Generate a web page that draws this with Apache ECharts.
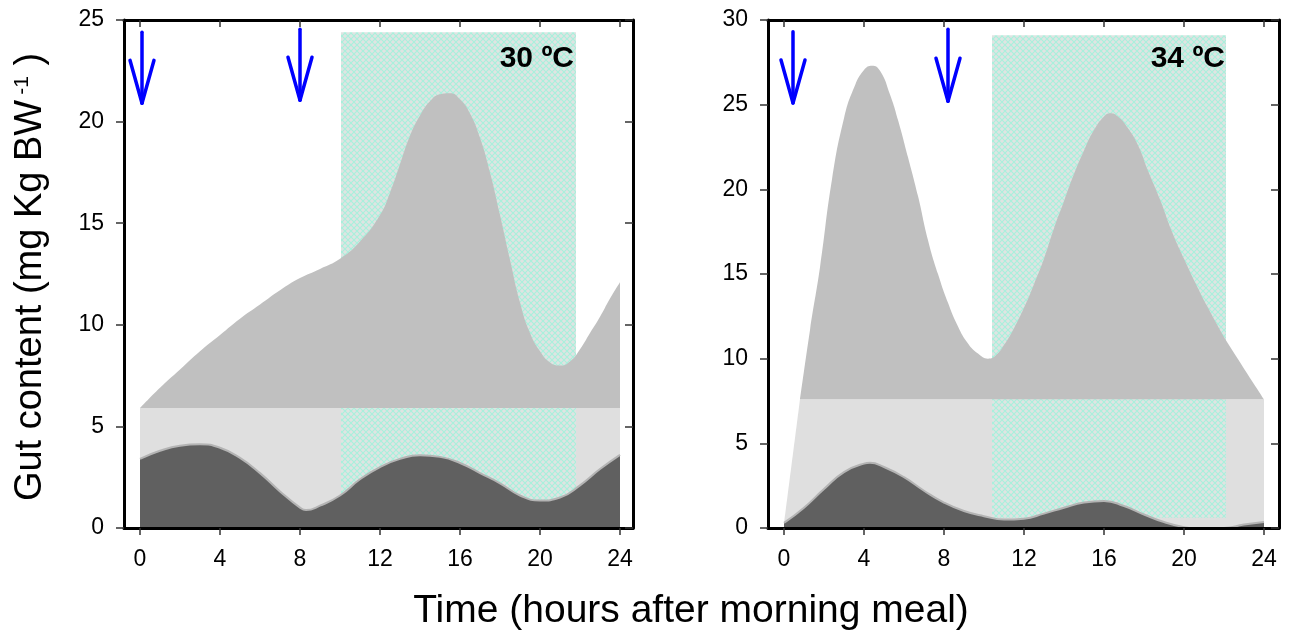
<!DOCTYPE html>
<html>
<head>
<meta charset="utf-8">
<script src="https://cdn.jsdelivr.net/npm/echarts@6/dist/echarts.min.js"></script>
<style>
  html, body { margin: 0; padding: 0; background: #fff; }
  #chart { width: 1296px; height: 641px; }
</style>
</head>
<body>
<div id="chart"></div>
<script>
const xTicks = [0, 4, 8, 12, 16, 20, 24]

// 30 ºC panel
const upper30 = [[0, 5.9], [1, 6.9], [2, 7.8], [3, 8.7], [4, 9.5], [5, 10.3], [6, 11.0], [7, 11.7], [8, 12.3],
  [9, 12.75], [10, 13.25], [11, 14.1], [12, 15.4], [12.5, 16.5], [13, 17.9], [13.5, 19.3], [14, 20.3],
  [14.5, 21.0], [15, 21.35], [15.5, 21.4], [16, 21.1], [16.5, 20.4], [17, 19.2], [17.5, 17.5], [18, 15.4],
  [18.5, 13.2], [19, 11.1], [19.5, 9.6], [20, 8.7], [20.5, 8.15], [21, 8.0], [21.5, 8.2], [22, 8.8],
  [22.5, 9.6], [23, 10.4], [23.5, 11.3], [24, 12.1]]
const lower30 = [[0, 3.4], [1, 3.8], [2, 4.05], [3, 4.12], [4, 3.95], [5, 3.45], [6, 2.7], [7, 1.8], [8, 1.0],
  [8.3, 0.88], [9, 1.1], [10, 1.6], [11, 2.4], [12, 3.0], [13, 3.4], [14, 3.58], [15, 3.5], [16, 3.2], [17, 2.7],
  [18, 2.2], [19, 1.6], [20, 1.35], [21, 1.5], [22, 2.1], [23, 2.9], [24, 3.6]]
const band30 = 5.9
const warm30 = [[10.05, 21.8, 0, 24.4]]        // [start, end, bottom, top]
const arrows30 = [[0.1, 24.4, 20.9], [8.0, 24.55, 21.05]]   // [hour, top, tip]

// 34 ºC panel
const upper34 = [[0, 0.3], [0.8, 7.6], [1.3, 11.7], [1.8, 15.4], [2.4, 20.6], [3, 24.2], [3.5, 26.0],
  [4, 27.05], [4.4, 27.3], [4.8, 27.0], [5.3, 25.6], [5.7, 24.1], [6.2, 21.9], [6.7, 19.6], [7.2, 17.0],
  [7.7, 15.0], [8.2, 13.3], [8.7, 11.9], [9.2, 10.9], [9.7, 10.3], [10.2, 10.0], [10.6, 10.2], [11, 10.8],
  [11.5, 11.8], [12, 13.0], [12.5, 14.4], [13, 15.9], [13.5, 17.7], [14, 19.3], [14.5, 20.9], [15, 22.3],
  [15.5, 23.5], [16, 24.3], [16.3, 24.5], [16.7, 24.3], [17.2, 23.6], [17.7, 22.6], [18.2, 21.1],
  [18.8, 19.4], [19.4, 17.5], [20, 15.9], [20.6, 14.4], [21.2, 13.0], [21.8, 11.7], [22.2, 10.9], [24, 7.6]]
const lower34 = [[0, 0.3], [1, 1.2], [2, 2.3], [3, 3.3], [4, 3.8], [4.3, 3.85], [5, 3.6], [6, 3.0], [7, 2.2],
  [8, 1.5], [9, 1.0], [10, 0.7], [11, 0.5], [12, 0.55], [13, 0.85], [14, 1.2], [15, 1.5], [16, 1.6],
  [17, 1.3], [18, 0.8], [19, 0.35], [20, 0.05], [20.5, 0], [22, 0], [23, 0.2], [24, 0.35]]
const band34 = 7.6
const warm34 = [[10.4, 22.1, 0.6, 29.1]]
const arrows34 = [[0.45, 29.3, 25.1], [8.2, 29.45, 25.2]]

const FONT = 'Liberation Sans, Arial, sans-serif'

// cross hatch for the warm period
function hatch() {
  const c = document.createElement('canvas')
  c.width = c.height = 6
  const g = c.getContext('2d')
  g.fillStyle = '#dfe4e2'
  g.fillRect(0, 0, 6, 6)
  g.strokeStyle = '#a8f0dc'
  g.lineWidth = 1.1
  g.beginPath()
  g.moveTo(0, 0); g.lineTo(6, 6)
  g.moveTo(6, 0); g.lineTo(0, 6)
  g.stroke()
  return { image: c, repeat: 'repeat' }
}
const pattern = hatch()

function xAxes(gridIndex, max) {
  const common = {
    type: 'value', gridIndex, min: -0.8, max, z: 10,
    splitLine: { show: false },
    axisLine: { show: true, onZero: false, lineStyle: { color: '#000', width: 3 } },
  }
  return [
    Object.assign({}, common, {
      position: 'bottom',
      axisTick: { show: true, length: 7, customValues: xTicks, lineStyle: { color: '#333', width: 1.5 } },
      axisLabel: { show: true, customValues: xTicks, margin: 20, color: '#000', fontSize: 23, fontFamily: FONT },
    }),
    Object.assign({}, common, {
      position: 'top',
      axisTick: { show: true, inside: true, length: 7, customValues: xTicks, lineStyle: { color: '#333', width: 1.5 } },
      axisLabel: { show: false },
    }),
  ]
}

function yAxes(gridIndex, max) {
  const common = {
    type: 'value', gridIndex, min: 0, max, interval: 5, z: 10,
    splitLine: { show: false },
    axisLine: { show: true, onZero: false, lineStyle: { color: '#000', width: 3 } },
  }
  return [
    Object.assign({}, common, {
      position: 'left',
      axisTick: { show: true, length: 8, lineStyle: { color: '#333', width: 1.5 } },
      axisLabel: { margin: 20, color: '#000', fontSize: 23, fontFamily: FONT },
    }),
    Object.assign({}, common, {
      position: 'right',
      axisTick: { show: true, inside: true, length: 8, lineStyle: { color: '#333', width: 1.5 } },
      axisLabel: { show: false },
    }),
  ]
}

function panelSeries(ax, upper, lower, band, warm, arrows) {
  const under = upper.map(p => [p[0], Math.min(p[1], band)])
  // grey part only where the total is above the band
  const over = upper.filter(p => p[1] >= band)
  const line = { type: 'line', xAxisIndex: ax, yAxisIndex: ax, symbol: 'none', silent: true }
  return [
    // light grey band under the constant level
    Object.assign({}, line, {
      z: 1,
      data: under,
      lineStyle: { width: 0 },
      areaStyle: { color: '#dfdfdf', opacity: 1 },
    }),
    // warm period
    {
      type: 'custom', xAxisIndex: ax, yAxisIndex: ax, silent: true, z: 2,
      data: warm,
      renderItem(params, api) {
        const a = api.coord([api.value(0), api.value(3)])
        const b = api.coord([api.value(1), api.value(2)])
        return {
          type: 'rect',
          shape: { x: a[0], y: a[1], width: b[0] - a[0], height: b[1] - a[1] },
          style: { fill: pattern },
        }
      },
    },
    // total gut content above the band
    Object.assign({}, line, {
      z: 3,
      data: over, smooth: 0.5,
      lineStyle: { width: 0 },
      areaStyle: { color: '#c0c0c0', opacity: 1, origin: band },
    }),
    // lower dark curve
    Object.assign({}, line, {
      z: 4,
      data: lower, smooth: 0.5,
      lineStyle: { color: '#b4b4b4', width: 2 },
      areaStyle: { color: '#606060', opacity: 1 },
    }),
    // meal arrows
    {
      type: 'custom', xAxisIndex: ax, yAxisIndex: ax, silent: true, z: 5,
      data: arrows,
      renderItem(params, api) {
        const t = api.coord([api.value(0), api.value(1)])
        const p = api.coord([api.value(0), api.value(2)])
        const st = { stroke: '#0000ff', lineWidth: 3.5, fill: null, lineCap: 'round', lineJoin: 'round' }
        return {
          type: 'group',
          children: [
            { type: 'line', shape: { x1: t[0], y1: t[1], x2: p[0], y2: p[1] }, style: st },
            { type: 'polyline', shape: { points: [[p[0] - 12, p[1] - 43], [p[0], p[1]], [p[0] + 12, p[1] - 43]] }, style: st },
          ],
        }
      },
    },
  ]
}

const chart = echarts.init(document.getElementById('chart'), null, { renderer: 'canvas' })

const option = {
  animation: false,
  backgroundColor: '#fff',
  grid: [
    { left: 124, top: 20, width: 509, height: 508 },
    { left: 768, top: 20, width: 511, height: 508 },
  ],
  xAxis: [].concat(xAxes(0, 24.65), xAxes(1, 24.75)),
  yAxis: [].concat(yAxes(0, 25), yAxes(1, 30)),
  series: [].concat(
    panelSeries(0, upper30, lower30, band30, warm30, arrows30),
    panelSeries(2, upper34, lower34, band34, warm34, arrows34)
  ),
  graphic: [
    {
      type: 'text', x: 574, y: 59, z: 20,
      style: { text: '30 ºC', font: 'bold 30px ' + FONT, fill: '#000', textAlign: 'right', textVerticalAlign: 'middle' },
    },
    {
      type: 'text', x: 1225, y: 59, z: 20,
      style: { text: '34 ºC', font: 'bold 30px ' + FONT, fill: '#000', textAlign: 'right', textVerticalAlign: 'middle' },
    },
    {
      type: 'text', x: 691, y: 611, z: 20,
      style: { text: 'Time (hours after morning meal)', font: '39px ' + FONT, fill: '#000', textAlign: 'center', textVerticalAlign: 'middle' },
    },
    {
      type: 'text', x: 31, y: 277, z: 20, rotation: Math.PI / 2,
      style: {
        text: 'Gut content (mg Kg BW{s|-1} )',
        font: '38px ' + FONT, fill: '#000', textAlign: 'center', textVerticalAlign: 'middle',
        rich: { s: { fontSize: 21, fontFamily: FONT, verticalAlign: 'top', padding: [0, 0, 14, 5] } },
      },
    },
  ],
}

chart.setOption(option)
</script>
</body>
</html>
